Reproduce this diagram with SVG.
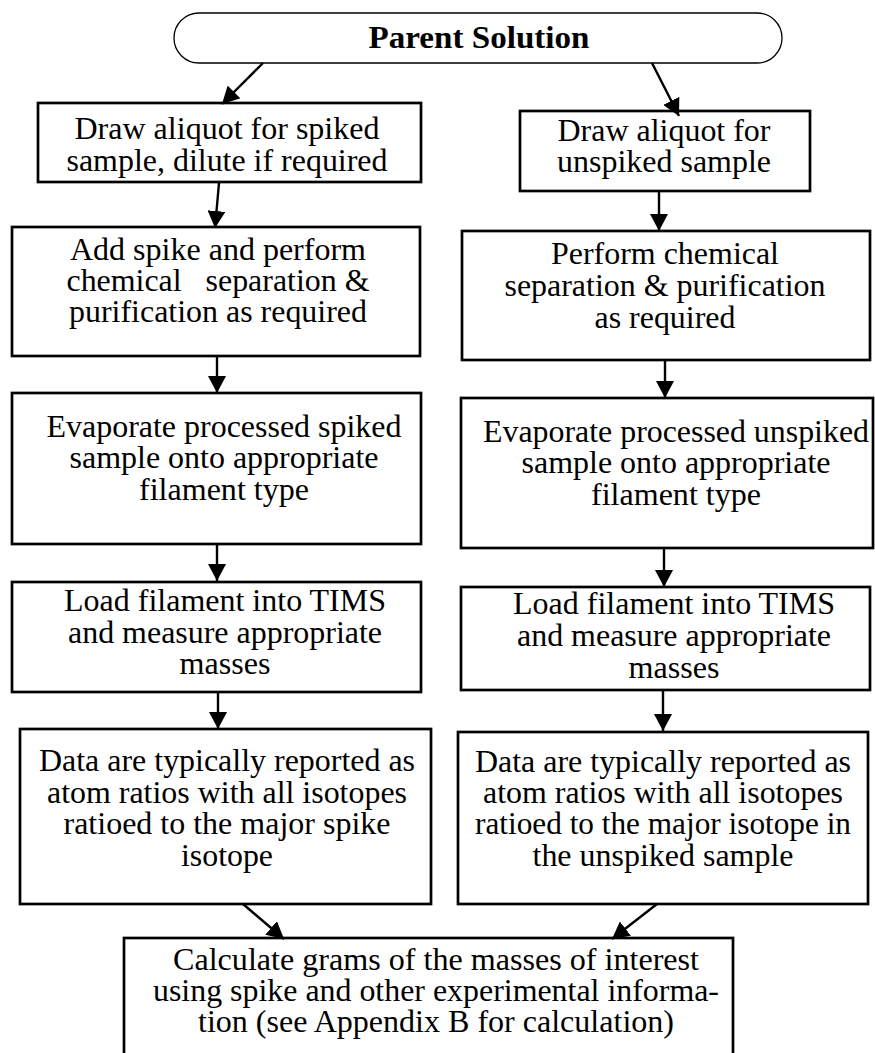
<svg xmlns="http://www.w3.org/2000/svg" width="875" height="1053" viewBox="0 0 875 1053">
  <style>
    .box { fill: #fff; stroke: #000; stroke-width: 2.7; }
    .pill { fill: #fff; stroke: #000; stroke-width: 1.3; }
    .t { font-family: "Liberation Serif", "DejaVu Serif", serif; font-size: 30.5px; fill: #000; text-anchor: middle; }
    .title { font-family: "Liberation Serif", "DejaVu Serif", serif; font-size: 31px; font-weight: bold; fill: #000; text-anchor: middle; }
    .edge { stroke: #000; stroke-width: 2.4; fill: none; marker-end: url(#arrow); }
  </style>
  <defs>
    <marker id="arrow" markerWidth="18" markerHeight="18" refX="17" refY="9" orient="auto" markerUnits="userSpaceOnUse">
      <path d="M0,0 L17,9 L0,18 Z" fill="#000"/>
    </marker>
  </defs>

  <rect width="875" height="1053" fill="#fff"/>

  <!-- start node -->
  <g id="parent">
    <rect class="pill" x="174" y="13" width="608" height="50" rx="25" ry="25"/>
    <text class="title" x="479" y="48" textLength="221" lengthAdjust="spacingAndGlyphs">Parent Solution</text>
  </g>

  <!-- spiked branch -->
  <g id="spiked-aliquot">
    <rect class="box" x="38" y="103" width="383" height="79"/>
    <text class="t" x="227" y="139" textLength="305" lengthAdjust="spacingAndGlyphs">Draw aliquot for spiked</text>
    <text class="t" x="227" y="171" textLength="321" lengthAdjust="spacingAndGlyphs">sample, dilute if required</text>
  </g>
  <g id="spiked-separation">
    <rect class="box" x="12" y="227" width="408" height="129"/>
    <text class="t" x="218" y="260" textLength="296" lengthAdjust="spacingAndGlyphs">Add spike and perform</text>
    <text class="t" x="218" y="291" textLength="303" lengthAdjust="spacingAndGlyphs" xml:space="preserve">chemical   separation &amp;</text>
    <text class="t" x="218" y="322" textLength="298" lengthAdjust="spacingAndGlyphs">purification as required</text>
  </g>
  <g id="spiked-evaporate">
    <rect class="box" x="12" y="393" width="409" height="151"/>
    <text class="t" x="224" y="437" textLength="355" lengthAdjust="spacingAndGlyphs">Evaporate processed spiked</text>
    <text class="t" x="224" y="468" textLength="309" lengthAdjust="spacingAndGlyphs">sample onto appropriate</text>
    <text class="t" x="224" y="500" textLength="170" lengthAdjust="spacingAndGlyphs">filament type</text>
  </g>
  <g id="spiked-load">
    <rect class="box" x="12" y="582" width="409" height="110"/>
    <text class="t" x="225" y="611" textLength="322" lengthAdjust="spacingAndGlyphs">Load filament into TIMS</text>
    <text class="t" x="225" y="643" textLength="314" lengthAdjust="spacingAndGlyphs">and measure appropriate</text>
    <text class="t" x="225" y="674" textLength="91" lengthAdjust="spacingAndGlyphs">masses</text>
  </g>
  <g id="spiked-data">
    <rect class="box" x="20" y="729" width="411" height="175"/>
    <text class="t" x="227" y="771" textLength="376" lengthAdjust="spacingAndGlyphs">Data are typically reported as</text>
    <text class="t" x="227" y="803" textLength="360" lengthAdjust="spacingAndGlyphs">atom ratios with all isotopes</text>
    <text class="t" x="227" y="834" textLength="327" lengthAdjust="spacingAndGlyphs">ratioed to the major spike</text>
    <text class="t" x="227" y="866" textLength="92" lengthAdjust="spacingAndGlyphs">isotope</text>
  </g>

  <!-- unspiked branch -->
  <g id="unspiked-aliquot">
    <rect class="box" x="520" y="111" width="290" height="80"/>
    <text class="t" x="664" y="141" textLength="213" lengthAdjust="spacingAndGlyphs">Draw aliquot for</text>
    <text class="t" x="664" y="172" textLength="214" lengthAdjust="spacingAndGlyphs">unspiked sample</text>
  </g>
  <g id="unspiked-separation">
    <rect class="box" x="462" y="231" width="408" height="129"/>
    <text class="t" x="665" y="264" textLength="228" lengthAdjust="spacingAndGlyphs">Perform chemical</text>
    <text class="t" x="665" y="296" textLength="321" lengthAdjust="spacingAndGlyphs">separation &amp; purification</text>
    <text class="t" x="665" y="328" textLength="141" lengthAdjust="spacingAndGlyphs">as required</text>
  </g>
  <g id="unspiked-evaporate">
    <rect class="box" x="461" y="398" width="412" height="150"/>
    <text class="t" x="676" y="442" textLength="386" lengthAdjust="spacingAndGlyphs">Evaporate processed unspiked</text>
    <text class="t" x="676" y="473" textLength="309" lengthAdjust="spacingAndGlyphs">sample onto appropriate</text>
    <text class="t" x="676" y="505" textLength="170" lengthAdjust="spacingAndGlyphs">filament type</text>
  </g>
  <g id="unspiked-load">
    <rect class="box" x="461" y="587" width="409" height="103"/>
    <text class="t" x="674" y="614" textLength="322" lengthAdjust="spacingAndGlyphs">Load filament into TIMS</text>
    <text class="t" x="674" y="646" textLength="314" lengthAdjust="spacingAndGlyphs">and measure appropriate</text>
    <text class="t" x="674" y="678" textLength="91" lengthAdjust="spacingAndGlyphs">masses</text>
  </g>
  <g id="unspiked-data">
    <rect class="box" x="458" y="732" width="410" height="172"/>
    <text class="t" x="663" y="772" textLength="376" lengthAdjust="spacingAndGlyphs">Data are typically reported as</text>
    <text class="t" x="663" y="803" textLength="360" lengthAdjust="spacingAndGlyphs">atom ratios with all isotopes</text>
    <text class="t" x="663" y="834" textLength="376" lengthAdjust="spacingAndGlyphs">ratioed to the major isotope in</text>
    <text class="t" x="663" y="866" textLength="261" lengthAdjust="spacingAndGlyphs">the unspiked sample</text>
  </g>

  <!-- final step -->
  <g id="calculate">
    <rect class="box" x="124" y="938" width="609" height="130"/>
    <text class="t" x="436" y="970" textLength="526" lengthAdjust="spacingAndGlyphs">Calculate grams of the masses of interest</text>
    <text class="t" x="436" y="1001" textLength="566" lengthAdjust="spacingAndGlyphs">using spike and other experimental informa-</text>
    <text class="t" x="436" y="1032" textLength="476" lengthAdjust="spacingAndGlyphs">tion (see Appendix B for calculation)</text>
  </g>

  <!-- connectors -->
  <g id="connectors">
    <line class="edge" x1="263" y1="63" x2="222" y2="104"/>
    <line class="edge" x1="652" y1="63" x2="679" y2="116"/>
    <line class="edge" x1="219" y1="183" x2="215" y2="228"/>
    <line class="edge" x1="217" y1="356" x2="217" y2="393"/>
    <line class="edge" x1="217" y1="544" x2="217" y2="581"/>
    <line class="edge" x1="218" y1="692" x2="218" y2="729"/>
    <line class="edge" x1="659" y1="191" x2="659" y2="231"/>
    <line class="edge" x1="665" y1="360" x2="665" y2="398"/>
    <line class="edge" x1="664" y1="548" x2="664" y2="587"/>
    <line class="edge" x1="663" y1="690" x2="663" y2="731"/>
    <line class="edge" x1="243" y1="904" x2="284" y2="939"/>
    <line class="edge" x1="657" y1="904" x2="612" y2="939"/>
  </g>
</svg>
